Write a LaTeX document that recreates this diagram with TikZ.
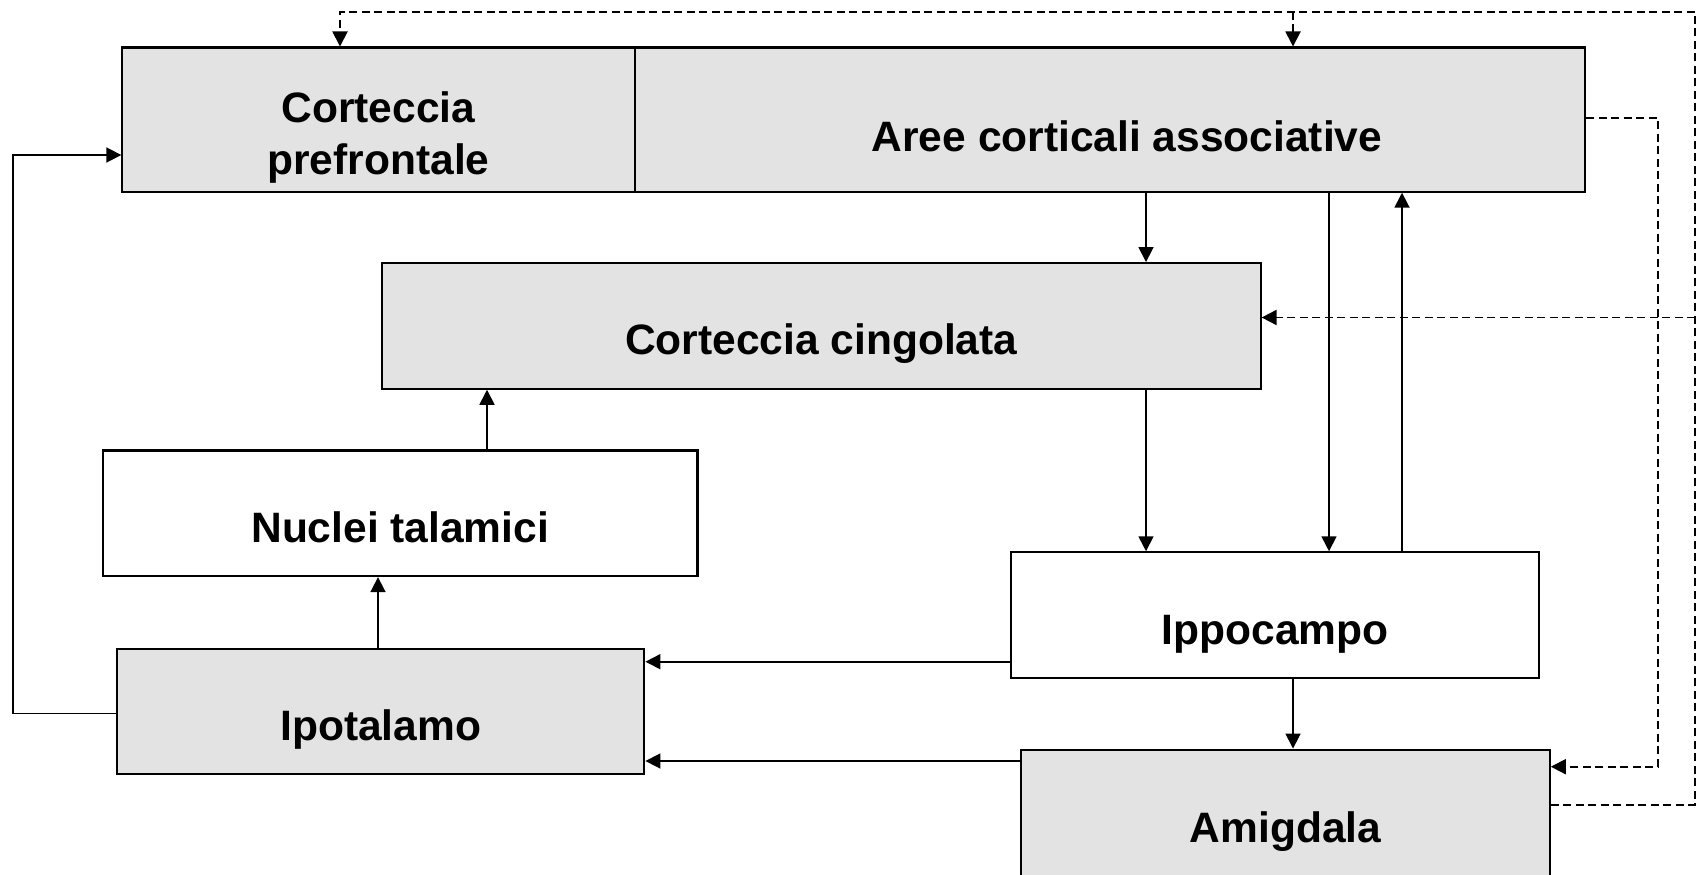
\documentclass[tikz,border=0pt]{standalone}
\usepackage{fontspec}
\setmainfont{Liberation Sans}
\usepackage{xcolor}
\usepackage{tikz}
\usetikzlibrary{positioning, calc, arrows.meta}

\definecolor{boxgrey}{RGB}{227,227,227}

\begin{document}
\begin{tikzpicture}[
    areabox/.style={draw, line width=0.021cm, inner sep=0pt, minimum height=1.256cm,
      text height=0.58cm, text depth=0pt, font=\bfseries\fontsize{12.1}{14.8}\selectfont},
    greybox/.style={areabox, fill=boxgrey},
    arr/.style={-{Triangle[length=0.15cm,width=0.15cm]}, line width=0.017cm},
    dline/.style={arr, line width=0.019cm, dash pattern=on 0.08cm off 0.045cm}
  ]
  \useasboundingbox (0,0) rectangle (16.98,-8.75);
  \clip (0,0) rectangle (16.98,-8.75);

  % boxes
  \node[greybox, minimum width=5.122cm, minimum height=1.441cm] (pref) at (3.785,-1.196)
    {\begin{tabular}{@{}c@{}}Corteccia\\prefrontale\end{tabular}};
  \node[greybox, minimum width=9.508cm, minimum height=1.441cm, text height=0.64cm] (assoc) at (11.10,-1.196)
    {\hspace*{0.34cm}Aree corticali associative};
  \node[greybox, minimum width=8.785cm] (cing) at (8.213,-3.259) {Corteccia cingolata};
  \node[areabox, minimum width=5.945cm] (nucl) at (4.002,-5.133) {Nuclei talamici};
  \node[greybox, minimum width=5.273cm] (ipot) at (3.807,-7.115) {Ipotalamo};
  \node[areabox, minimum width=5.274cm] (ippo) at (12.751,-6.151) {Ippocampo};
  % bottom edge runs off the page
  \node[greybox, minimum width=5.285cm, minimum height=1.30cm, text height=0.55cm] (amig) at (12.855,-8.146) {Amigdala};

  % columns and rows of the connectors
  \coordinate (c1) at (11.46,0);
  \coordinate (c2) at (13.29,0);
  \coordinate (c3) at (14.02,0);
  \coordinate (c4) at (12.93,0);
  \coordinate (c5) at (3.78,0);
  \coordinate (c6) at (4.87,0);
  \coordinate (c7) at (3.40,0);
  \coordinate (r1) at (0,-6.617);
  \coordinate (r2) at (0,-7.61);
  \coordinate (r3) at (0,-7.136);
  \coordinate (r4) at (0,-1.55);
  \coordinate (r5) at (0,-1.18);
  \coordinate (r6) at (0,-7.667);
  \coordinate (r7) at (0,-8.046);
  \coordinate (r8) at (0,-3.175);
  \coordinate (loopleft) at (0.128,-7.136);
  \coordinate (inner) at (16.58,-7.667);
  \coordinate (outer) at (16.95,-0.117);

  % solid connections
  \draw[arr] (assoc.south -| c1) -- (cing.north -| c1);
  \draw[arr] (cing.south -| c1) -- (ippo.north -| c1);
  \draw[arr] (assoc.south -| c2) -- (ippo.north -| c2);
  \draw[arr] (ippo.north -| c3) -- (assoc.south -| c3);
  \draw[arr] (ippo.south -| c4) -- (amig.north -| c4);
  \draw[arr] (ippo.west |- r1) -- (ipot.east |- r1);
  \draw[arr] (amig.west |- r2) -- (ipot.east |- r2);
  \draw[arr] (ipot.north -| c5) -- (nucl.south -| c5);
  \draw[arr] (nucl.north -| c6) -- (cing.south -| c6);
  \draw[arr] (ipot.west |- r3) -- (loopleft) |- (pref.west |- r4);

  % dashed feedback
  \draw[dline] (assoc.east |- r5) -| (inner) -- (amig.east |- r6);
  \draw[dline] (amig.east |- r7) -| (outer) -| (pref.north -| c7);
  \draw[dline] (outer -| c4) -- (assoc.north -| c4);
  \draw[dline] (outer |- r8) -- (cing.east |- r8);
\end{tikzpicture}
\end{document}
